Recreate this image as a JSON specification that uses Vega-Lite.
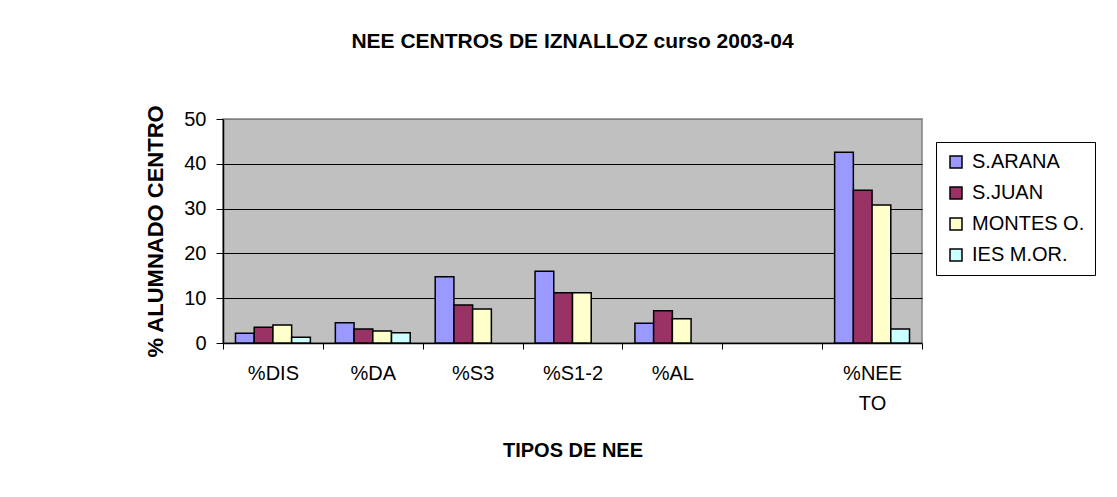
{
  "$schema": "https://vega.github.io/schema/vega-lite/v6.json",
  "autosize": "none",
  "width": 699,
  "height": 224,
  "padding": {"left": 223, "top": 119, "right": 195, "bottom": 154},
  "background": "white",
  "config": {
    "font": "Liberation Sans",
    "view": {"fill": "#C0C0C0", "stroke": "#808080", "strokeWidth": 1.5}
  },
  "title": {
    "text": "NEE CENTROS DE IZNALLOZ curso 2003-04",
    "font": "Liberation Sans",
    "fontSize": 21,
    "fontWeight": "bold",
    "color": "black",
    "anchor": "middle",
    "frame": "group",
    "baseline": "alphabetic",
    "offset": 35
  },
  "data": {
    "values": [
      {"cat": "%DIS", "centro": "S.ARANA", "pct": 2.2},
      {"cat": "%DIS", "centro": "S.JUAN", "pct": 3.5},
      {"cat": "%DIS", "centro": "MONTES O.", "pct": 4.0},
      {"cat": "%DIS", "centro": "IES M.OR.", "pct": 1.3},
      {"cat": "%DA", "centro": "S.ARANA", "pct": 4.5},
      {"cat": "%DA", "centro": "S.JUAN", "pct": 3.1},
      {"cat": "%DA", "centro": "MONTES O.", "pct": 2.7},
      {"cat": "%DA", "centro": "IES M.OR.", "pct": 2.3},
      {"cat": "%S3", "centro": "S.ARANA", "pct": 14.8},
      {"cat": "%S3", "centro": "S.JUAN", "pct": 8.5},
      {"cat": "%S3", "centro": "MONTES O.", "pct": 7.6},
      {"cat": "%S1-2", "centro": "S.ARANA", "pct": 16.0},
      {"cat": "%S1-2", "centro": "S.JUAN", "pct": 11.2},
      {"cat": "%S1-2", "centro": "MONTES O.", "pct": 11.2},
      {"cat": "%AL", "centro": "S.ARANA", "pct": 4.4},
      {"cat": "%AL", "centro": "S.JUAN", "pct": 7.2},
      {"cat": "%AL", "centro": "MONTES O.", "pct": 5.4},
      {"cat": "%NEE TO", "centro": "S.ARANA", "pct": 42.6},
      {"cat": "%NEE TO", "centro": "S.JUAN", "pct": 34.1},
      {"cat": "%NEE TO", "centro": "MONTES O.", "pct": 30.8},
      {"cat": "%NEE TO", "centro": "IES M.OR.", "pct": 3.1}
    ]
  },
  "mark": {"type": "bar", "stroke": "black", "strokeWidth": 1.5},
  "encoding": {
    "x": {
      "field": "cat",
      "type": "nominal",
      "scale": {
        "domain": ["%DIS", "%DA", "%S3", "%S1-2", "%AL", " ", "%NEE TO"],
        "paddingInner": 0,
        "paddingOuter": 0
      },
      "axis": {
        "title": "TIPOS DE NEE",
        "titleFont": "Liberation Sans",
        "titleFontSize": 20,
        "titleFontWeight": "bold",
        "titleColor": "black",
        "titleBaseline": "middle",
        "titleY": 107,
        "labelAngle": 0,
        "labelFontSize": 20,
        "labelColor": "black",
        "labelPadding": 14,
        "labelLineHeight": 30,
        "labelExpr": "split(datum.label, ' ')",
        "tickBand": "extent",
        "tickSize": 6,
        "tickColor": "black",
        "domainColor": "black",
        "domainWidth": 1.5,
        "grid": false
      }
    },
    "xOffset": {
      "field": "centro",
      "type": "nominal",
      "scale": {"domain": ["S.ARANA", "S.JUAN", "MONTES O.", "IES M.OR."], "paddingInner": 0, "paddingOuter": 0.667}
    },
    "y": {
      "field": "pct",
      "type": "quantitative",
      "scale": {"domain": [0, 50], "nice": false},
      "axis": {
        "title": "% ALUMNADO CENTRO",
        "titleFont": "Liberation Sans",
        "titleFontSize": 22,
        "titleFontWeight": "bold",
        "titleColor": "black",
        "titleAngle": 270,
        "titleAlign": "left",
        "titleBaseline": "middle",
        "titleX": -68,
        "titleY": 238,
        "values": [0, 10, 20, 30, 40, 50],
        "labelFontSize": 20,
        "labelColor": "black",
        "labelPadding": 10,
        "tickSize": 7,
        "tickColor": "black",
        "domainColor": "black",
        "domainWidth": 1.5,
        "grid": true,
        "gridColor": {"condition": {"test": "datum.value === 50 || datum.value === 0", "value": "#808080"}, "value": "black"},
        "gridWidth": 1
      }
    },
    "color": {
      "field": "centro",
      "type": "nominal",
      "scale": {
        "domain": ["S.ARANA", "S.JUAN", "MONTES O.", "IES M.OR."],
        "range": ["#9999FF", "#993366", "#FFFFCC", "#CCFFFF"]
      },
      "legend": {
        "title": null,
        "orient": "none",
        "legendX": 713,
        "legendY": 23,
        "padding": 10,
        "strokeColor": "black",
        "fillColor": "white",
        "symbolType": "square",
        "symbolSize": 144,
        "symbolStrokeColor": "black",
        "symbolStrokeWidth": 1.5,
        "symbolOpacity": 1,
        "labelFontSize": 20,
        "labelColor": "black",
        "labelOffset": 6,
        "rowPadding": 11
      }
    }
  }
}
